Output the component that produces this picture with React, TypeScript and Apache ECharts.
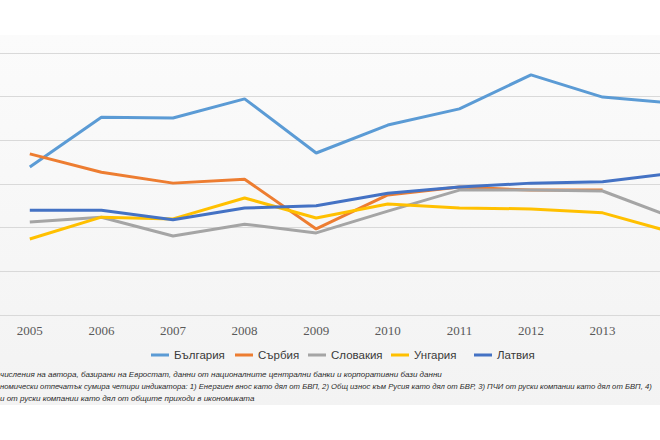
import React, { useEffect, useRef } from "react";
import * as echarts from "echarts";

const years = ["2005", "2006", "2007", "2008", "2009", "2010", "2011", "2012", "2013", "2014"];
const bulgaria = [3.39, 4.53, 4.51, 4.95, 3.71, 4.35, 4.72, 5.5, 4.99, 4.85];
const serbia = [3.69, 3.27, 3.02, 3.11, 1.97, 2.75, 2.93, 2.86, 2.86, null];
const slovakia = [2.13, 2.24, 1.81, 2.08, 1.88, 2.38, 2.86, 2.86, 2.84, 2.22];
const hungary = [1.74, 2.24, 2.2, 2.68, 2.22, 2.54, 2.45, 2.43, 2.34, 1.88];
const latvia = [2.4, 2.4, 2.18, 2.45, 2.5, 2.79, 2.93, 3.02, 3.05, 3.25];

const seriesNames = ["България", "Сърбия", "Словакия", "Унгария", "Латвия"];
const seriesData = [bulgaria, serbia, slovakia, hungary, latvia];
const colors = ["#5b9bd5", "#ed7d31", "#a5a5a5", "#ffc000", "#4472c4"];
const legendLeft = [146, 230, 303, 386, 469];

const footnotes = [
  "числения на автора, базирани на Евростат, данни от националните централни банки и корпоративни бази данни",
  "номически отпечатък сумира четири индикатора: 1) Енергиен внос като дял от БВП, 2) Общ износ към Русия като дял от БВР, 3) ПЧИ от руски компании като дял от БВП, 4)",
  "и от руски компании като дял от общите приходи в икономиката",
];
const footnoteY = [375, 387, 399];
const footnoteSize = [8, 7.7, 8];

// chart canvas is wider than the visible window: the plot is cropped at both sides
const SHIFT = 6;
const CHART_W = 716;
const LAST_VISIBLE_LABEL = 8; // the 2014 label lies outside the visible window

export default function App() {
  const ref = useRef<HTMLDivElement>(null);
  useEffect(() => {
    if (!ref.current) return;
    const chart = echarts.init(ref.current, undefined, { renderer: "svg" });
    chart.setOption({
      animation: false,
      backgroundColor: "#ffffff",
      color: colors,
      grid: { left: 0, right: 0, top: 53, bottom: 125 },
      xAxis: {
        type: "category",
        data: years,
        boundaryGap: true,
        axisLine: { lineStyle: { color: "#d9d9d9", width: 1 } },
        axisTick: { show: false },
        axisLabel: {
          color: "#595959",
          fontFamily: "Liberation Serif",
          fontSize: 13,
          margin: 9,
          interval: (i: number) => i <= LAST_VISIBLE_LABEL,
        },
      },
      yAxis: {
        type: "value",
        min: 0,
        max: 6,
        interval: 1,
        axisLabel: { show: false },
        axisLine: { show: false },
        axisTick: { show: false },
        splitLine: { lineStyle: { color: "#d9d9d9", width: 1 } },
      },
      legend: seriesNames.map((n, i) => ({
        data: [n],
        left: legendLeft[i] + SHIFT,
        top: 344,
        icon: "rect",
        itemWidth: 18,
        itemHeight: 3,
        selectedMode: false,
        textStyle: { color: "#3a3a3a", fontSize: 11.5, fontFamily: "Liberation Sans" },
      })),
      series: seriesNames.map((n, i) => ({
        name: n,
        type: "line",
        data: seriesData[i],
        symbol: "none",
        lineStyle: { width: 3, color: colors[i] },
        itemStyle: { color: colors[i] },
        connectNulls: false,
      })),
      graphic: [
        {
          type: "rect",
          z: -100,
          silent: true,
          shape: { x: SHIFT, y: 35, width: 660, height: 370 },
          style: {
            fill: new echarts.graphic.LinearGradient(0, 0, 0, 1, [
              { offset: 0, color: "#fbfbfb" },
              { offset: 1, color: "#f3f3f3" },
            ]),
          },
        },
        ...footnotes.map((t, i) => ({
          type: "text",
          left: SHIFT,
          top: footnoteY[i] - 5,
          silent: true,
          style: {
            text: t,
            fill: "#2a2a2a",
            font: `italic ${footnoteSize[i]}px "Liberation Sans"`,
          },
        })),
      ],
    });
    return () => chart.dispose();
  }, []);
  return (
    <div
      style={{
        position: "fixed",
        left: 0,
        top: 0,
        width: 660,
        height: 440,
        overflow: "hidden",
        background: "#fff",
      }}
    >
      <div
        ref={ref}
        style={{ position: "absolute", left: -SHIFT, top: 0, width: CHART_W, height: 440 }}
      />
    </div>
  );
}
